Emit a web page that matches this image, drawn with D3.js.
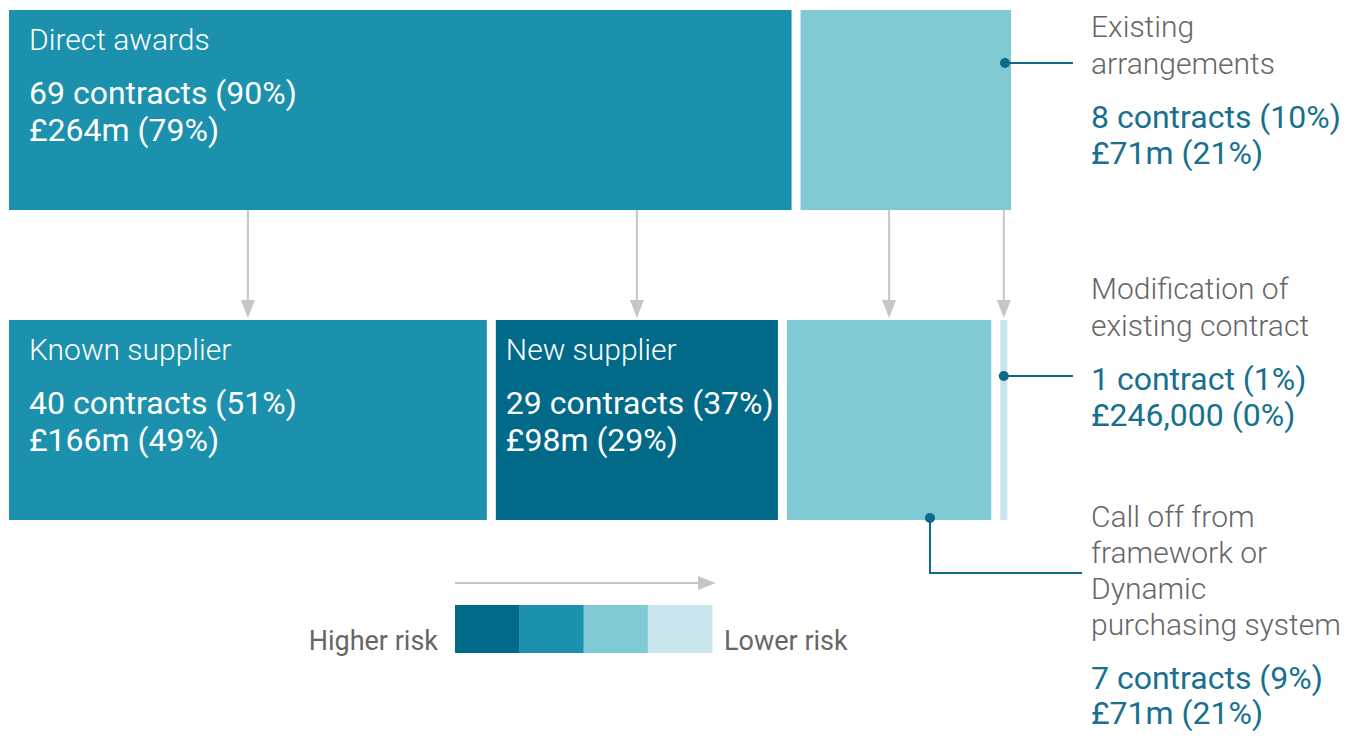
<!DOCTYPE html>
<html><head><meta charset="utf-8">
<script src="https://cdn.jsdelivr.net/npm/d3@7"></script>
<style>body{margin:0;background:#fff}svg{display:block}text{font-family:Roboto,"Liberation Sans",sans-serif}</style>
</head><body><svg id="c" width="1354" height="736"></svg>
<script>
// Data
const topCategories = ["Direct awards", "Existing arrangements"];
const topValuesM = [264, 71];
const topContracts = [69, 8];
const topLabels = [["69 contracts (90%)", "£264m (79%)"], ["8 contracts (10%)", "£71m (21%)"]];
const bottomCategories = ["Known supplier", "New supplier", "Call off from framework or Dynamic purchasing system", "Modification of existing contract"];
const bottomValuesM = [166, 98, 71, 0.246];
const bottomContracts = [40, 29, 7, 1];
const bottomParent = [0, 0, 1, 1];
const bottomLabels = [["40 contracts (51%)", "£166m (49%)"], ["29 contracts (37%)", "£98m (29%)"], ["7 contracts (9%)", "£71m (21%)"], ["1 contract (1%)", "£246,000 (0%)"]];
const riskLevels = ["Higher", "High", "Low", "Lower"];
const riskColors = ["#026a89", "#1b91ad", "#80cad3", "#c7e5eb"];
const topRisk = [1, 2];
const bottomRisk = [1, 0, 2, 3];

const svg = d3.select("#c");
const gap = 9, minW = 7;
const left = 9;

function layout(values, right) {
  const n = values.length;
  const sum = d3.sum(values);
  const small = values.filter(v => v / sum < 0.01).length;
  const avail = right - left - gap * (n - 1) - minW * small;
  const x = d3.scaleLinear().domain([0, sum]).range([0, avail]);
  let cur = left;
  return values.map(v => {
    const w = v / sum < 0.01 ? minW : x(v);
    const r = {x0: cur, w};
    cur += w + gap;
    return r;
  });
}
const barH = 200;
const y0 = 10, y1 = 320;

const topL = layout(topValuesM, 1011);
const botL = layout(bottomValuesM, 1008);

// arrows
const arrowColor = "#c6c6c6";
botL.forEach((b, i) => {
  const cx = b.x0 + b.w / 2;
  svg.append("line").attr("x1", cx).attr("x2", cx).attr("y1", y0 + barH).attr("y2", y1 - 16)
    .attr("stroke", arrowColor).attr("stroke-width", 2);
  svg.append("path").attr("d", `M${cx - 7},${y1 - 20}L${cx + 7},${y1 - 20}L${cx},${y1 - 2}Z`).attr("fill", arrowColor);
});

// bars
svg.selectAll("rect.top").data(topL).join("rect").attr("class", "top")
  .attr("x", d => d.x0).attr("y", y0).attr("width", d => d.w).attr("height", barH)
  .attr("fill", (d, i) => riskColors[topRisk[i]]);
svg.selectAll("rect.bot").data(botL).join("rect").attr("class", "bot")
  .attr("x", d => d.x0).attr("y", y1).attr("width", d => d.w).attr("height", barH)
  .attr("fill", (d, i) => riskColors[bottomRisk[i]]);

// in-bar labels
const titleSize = 30, numSize = 32;
function inLabel(b, yy, pad, title, lines) {
  const g = svg.append("g").attr("transform", `translate(${b.x0 + pad},${yy})`);
  g.append("text").attr("y", 40).attr("fill", "#fff").attr("font-size", titleSize).attr("font-weight", 300).text(title);
  lines.forEach((t, k) => g.append("text").attr("y", 94 + k * 37).attr("fill", "#fff").attr("font-size", numSize).attr("font-weight", 400).text(t));
}
inLabel(topL[0], y0, 20, topCategories[0], topLabels[0]);
inLabel(botL[0], y1, 20, bottomCategories[0], bottomLabels[0]);
inLabel(botL[1], y1, 10, bottomCategories[1], bottomLabels[1]);

// outside labels
const lx = 1091;
const grey = "#666", teal = "#17708e", conn = "#0d6a8a";
function outLabel(yTop, step, titleLines, lines) {
  titleLines.forEach((t, k) => svg.append("text").attr("x", lx).attr("y", yTop + k * step).attr("fill", grey).attr("font-size", titleSize).attr("font-weight", 300).text(t));
  const yb = yTop + (titleLines.length - 1) * step + 54;
  lines.forEach((t, k) => svg.append("text").attr("x", lx).attr("y", yb + k * (step - 1)).attr("fill", teal).attr("font-size", numSize).attr("font-weight", 400).text(t));
}
outLabel(37, 37, ["Existing", "arrangements"], topLabels[1]);
outLabel(299, 37, ["Modification of", "existing contract"], bottomLabels[3]);
outLabel(527, 36, ["Call off from", "framework or", "Dynamic", "purchasing system"], bottomLabels[2]);

// connectors
const ex = topL[1].x0 + topL[1].w - 6;
svg.append("line").attr("x1", ex).attr("x2", 1073).attr("y1", 63).attr("y2", 63).attr("stroke", conn).attr("stroke-width", 2);
svg.append("circle").attr("cx", ex).attr("cy", 63).attr("r", 5).attr("fill", conn);
const mx = botL[3].x0 + botL[3].w / 2;
svg.append("line").attr("x1", mx).attr("x2", 1073).attr("y1", 376).attr("y2", 376).attr("stroke", conn).attr("stroke-width", 2);
svg.append("circle").attr("cx", mx).attr("cy", 376).attr("r", 5).attr("fill", conn);
const cxo = botL[2].x0 + botL[2].w * 0.7;
svg.append("path").attr("d", `M${cxo},${y1 + barH - 2}V573H1082`).attr("fill", "none").attr("stroke", conn).attr("stroke-width", 2);
svg.append("circle").attr("cx", cxo).attr("cy", y1 + barH - 2).attr("r", 5).attr("fill", conn);

// legend
const lgx = d3.scaleBand().domain(riskLevels).range([455, 712]);
svg.selectAll("rect.lg").data(riskLevels).join("rect").attr("class", "lg")
  .attr("x", d => lgx(d)).attr("y", 605).attr("width", lgx.bandwidth() + 0.5).attr("height", 48)
  .attr("fill", (d, i) => riskColors[i]);
svg.append("line").attr("x1", 455).attr("x2", 700).attr("y1", 583).attr("y2", 583).attr("stroke", arrowColor).attr("stroke-width", 2);
svg.append("path").attr("d", "M698,576L716,583L698,590Z").attr("fill", arrowColor);
svg.append("text").attr("x", 438).attr("y", 650).attr("text-anchor", "end").attr("fill", grey).attr("font-size", 27).text("Higher risk");
svg.append("text").attr("x", 724).attr("y", 650).attr("fill", grey).attr("font-size", 27).text("Lower risk");
</script></body></html>
